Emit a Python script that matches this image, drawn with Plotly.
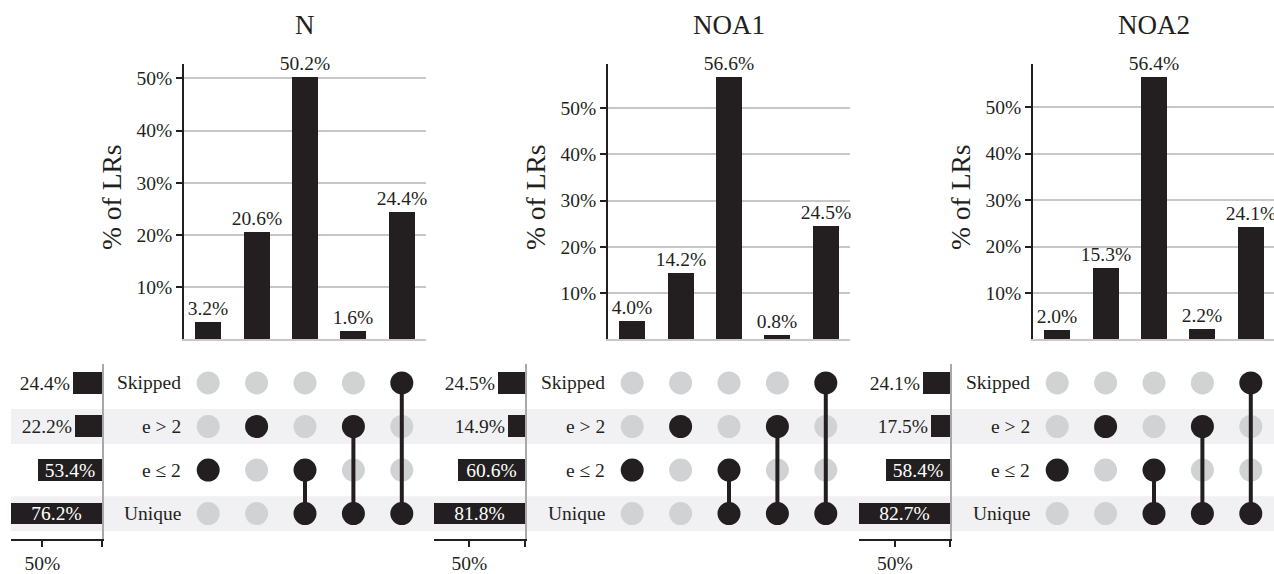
import plotly.graph_objects as go

# ---------------- data ----------------
panels = ["N", "NOA1", "NOA2"]
combo_N = [3.2, 20.6, 50.2, 1.6, 24.4]
combo_NOA1 = [4.0, 14.2, 56.6, 0.8, 24.5]
combo_NOA2 = [2.0, 15.3, 56.4, 2.2, 24.1]
combos = [combo_N, combo_NOA1, combo_NOA2]

sets = ["Unique", "e ≤ 2", "e > 2", "Skipped"]  # bottom to top
set_N = [76.2, 53.4, 22.2, 24.4]
set_NOA1 = [81.8, 60.6, 14.9, 24.5]
set_NOA2 = [82.7, 58.4, 17.5, 24.1]
set_sizes = [set_N, set_NOA1, set_NOA2]

combo_members = [["e ≤ 2"], ["e > 2"], ["Unique", "e ≤ 2"],
                 ["Unique", "e > 2"], ["Unique", "Skipped"]]
y_ticks = [10, 20, 30, 40, 50]
set_ticks = [50, 0]
set_tick_text = ["50%", ""]

# ---------------- layout constants ----------------
W, H = 1274, 574
FONT = "Liberation Serif, Times New Roman, DejaVu Serif, serif"
FS = 19.5
DARK = "#231f20"
GRID = "#c8c8c8"
GRAYDOT = "#d1d2d4"
STRIPE = "#f1f1f3"
bar_x0 = [184, 608, 1033]
bar_w = 242
set_x0 = [11, 434, 859]
set_w = 91
unit = 48.4
row_px = 44.0
bar_top, bar_bot = 65, 343
mat_top, mat_bot = 368, 545
unique_px = 519
mat_range = [-(mat_bot - unique_px) / row_px,
             (unique_px - mat_top) / row_px]


def px_x(p):
    return min(max(p / W, 0), 1)


def px_y(p):
    return min(max(1 - p / H, 0), 1)


def an(n):
    return "" if n == 1 else str(n)


fig = go.Figure()
layout = dict(
    width=W, height=H, margin=dict(l=0, r=0, t=0, b=0),
    paper_bgcolor="white", plot_bgcolor="rgba(0,0,0,0)",
    showlegend=False, font=dict(family=FONT, color=DARK, size=FS),
    bargap=0,
)
annotations = []
shapes = []

for p, name in enumerate(panels):
    nb, nm, ns = 3 * p + 1, 3 * p + 2, 3 * p + 3
    x0 = bar_x0[p]
    x1 = min(x0 + bar_w, W)
    xr = [-0.5, -0.5 + (x1 - x0) / unit]
    vals = combos[p]
    cats = list(range(len(vals)))

    # ---- intersection bars ----
    fig.add_trace(go.Bar(
        x=cats, y=vals, width=0.54, marker=dict(color=DARK, line=dict(width=0)),
        text=[f"{v:.1f}%" for v in vals], textposition="outside",
        textfont=dict(family=FONT, size=FS, color=DARK), cliponaxis=False,
        constraintext="none",
        xaxis="x" + an(nb), yaxis="y" + an(nb), hoverinfo="skip"))
    layout["xaxis" + an(nb)] = dict(
        domain=[px_x(x0), px_x(x1)], range=xr, anchor="y" + an(nb),
        showticklabels=False, ticks="", showgrid=False, zeroline=False,
        showline=True, linecolor=GRID, linewidth=1.5)
    layout["yaxis" + an(nb)] = dict(
        domain=[px_y(bar_bot), px_y(bar_top)], range=[0, max(vals) * 1.05],
        anchor="x" + an(nb), tickvals=y_ticks,
        ticktext=[f"{v}%" for v in y_ticks],
        tickfont=dict(family=FONT, size=FS, color=DARK),
        showgrid=True, gridcolor=GRID, gridwidth=1.5, zeroline=False,
        showline=True, linecolor=DARK, linewidth=1.5,
        ticks="outside", ticklen=6, tickcolor=DARK, tickwidth=1.5)

    # ---- matrix ----
    gx, gy, bx, by = [], [], [], []
    for c, mem in enumerate(combo_members):
        for r, s in enumerate(sets):
            if s in mem:
                bx.append(c); by.append(r)
            else:
                gx.append(c); gy.append(r)
    fig.add_trace(go.Scatter(x=gx, y=gy, mode="markers",
                             marker=dict(color=GRAYDOT, size=23, line=dict(width=0)),
                             xaxis="x" + an(nm), yaxis="y" + an(nm), hoverinfo="skip"))
    for c, mem in enumerate(combo_members):
        rows = [sets.index(m) for m in mem]
        if len(rows) > 1:
            fig.add_trace(go.Scatter(
                x=[c, c], y=[min(rows), max(rows)], mode="lines",
                line=dict(color=DARK, width=4),
                xaxis="x" + an(nm), yaxis="y" + an(nm), hoverinfo="skip"))
    fig.add_trace(go.Scatter(x=bx, y=by, mode="markers",
                             marker=dict(color=DARK, size=23, line=dict(width=0)),
                             xaxis="x" + an(nm), yaxis="y" + an(nm), hoverinfo="skip"))
    layout["xaxis" + an(nm)] = dict(
        domain=[px_x(x0), px_x(x1)], range=xr, anchor="y" + an(nm),
        visible=False)
    layout["yaxis" + an(nm)] = dict(
        domain=[px_y(mat_bot), px_y(mat_top)], range=mat_range,
        anchor="x" + an(nm), visible=False)
    for r, s in enumerate(sets):
        annotations.append(dict(
            x=-0.5, y=r, xref="x" + an(nm), yref="y" + an(nm), text=s,
            showarrow=False, xanchor="right", yanchor="middle", xshift=-1,
            font=dict(family=FONT, size=FS, color=DARK)))

    # ---- set size bars ----
    sv = set_sizes[p]
    fig.add_trace(go.Bar(
        x=sv, y=list(range(len(sv))), orientation="h", width=0.5,
        marker=dict(color=DARK, line=dict(width=0)),
        text=[f"{v:.1f}%" for v in sv],
        textposition=["inside" if v > 40 else "outside" for v in sv],
        insidetextanchor="middle",
        insidetextfont=dict(family=FONT, size=FS, color="white"),
        outsidetextfont=dict(family=FONT, size=FS, color=DARK),
        constraintext="none", cliponaxis=False,
        xaxis="x" + an(ns), yaxis="y" + an(ns), hoverinfo="skip"))
    layout["xaxis" + an(ns)] = dict(
        domain=[px_x(set_x0[p]), px_x(set_x0[p] + set_w)],
        range=[max(sv), 0], anchor="y" + an(ns),
        tickvals=set_ticks, ticktext=set_tick_text,
        tickfont=dict(family=FONT, size=FS, color=DARK),
        ticks="outside", ticklen=6, tickcolor=DARK, tickwidth=1.5,
        showline=True, linecolor=DARK, linewidth=1.5,
        showgrid=False, zeroline=False)
    layout["yaxis" + an(ns)] = dict(
        domain=[px_y(mat_bot), px_y(mat_top)], range=mat_range,
        anchor="x" + an(ns), side="right", showline=True,
        linecolor="#a8a8a8", linewidth=1.5, showticklabels=False,
        ticks="", showgrid=False, zeroline=False)

    # ---- titles ----
    annotations.append(dict(
        x=px_x(x0 + bar_w / 2), y=px_y(25), xref="paper", yref="paper",
        text=name, showarrow=False, xanchor="center", yanchor="middle",
        font=dict(family=FONT, size=27, color=DARK)))
    annotations.append(dict(
        x=px_x(x0 - 72), y=px_y(200), xref="paper", yref="paper",
        text="% of LRs", textangle=-90, showarrow=False,
        xanchor="center", yanchor="middle",
        font=dict(family=FONT, size=27.5, color=DARK)))

# stripes across the matrix rows (Unique and e > 2)
for r in [0, 2]:
    shapes.append(dict(type="rect", xref="paper", yref="y2",
                       x0=px_x(11), x1=1, y0=r - 0.4, y1=r + 0.4,
                       fillcolor=STRIPE, line=dict(width=0), layer="below"))

layout["annotations"] = annotations
layout["shapes"] = shapes
fig.update_layout(**layout)
fig.write_html("out.html", config={"displayModeBar": False},
               post_script="document.body.style.margin='0';document.body.style.overflow='hidden';")
